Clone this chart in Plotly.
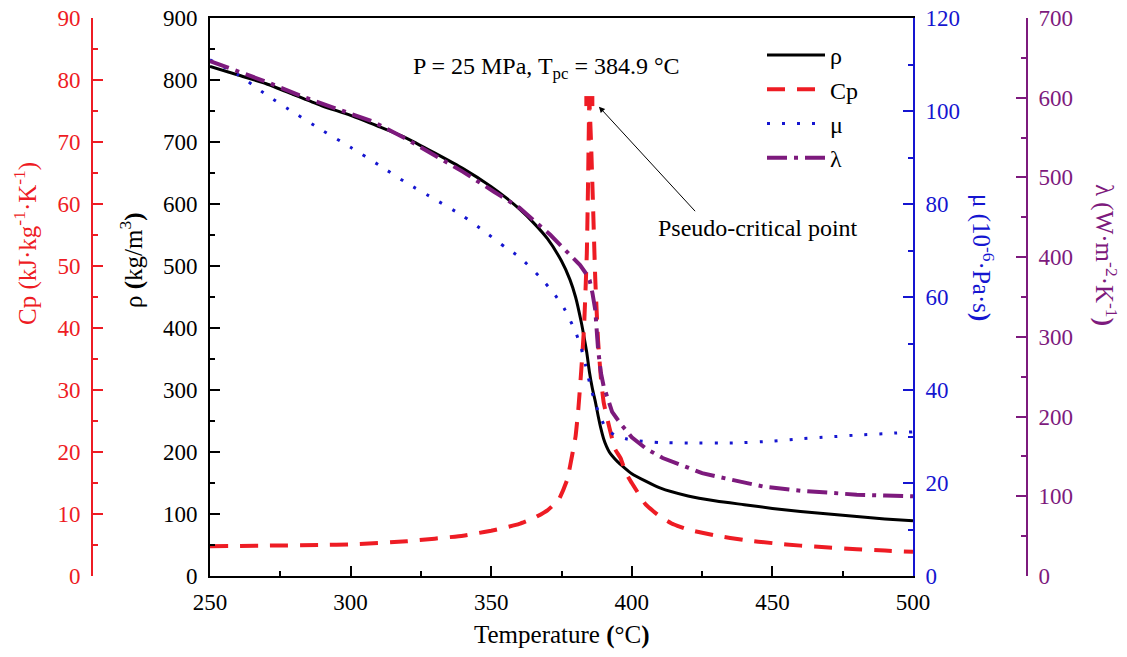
import plotly.graph_objects as go

# Supercritical water properties at P = 25 MPa
temp_rho = [250, 260, 270, 280, 290, 300, 310, 320, 330, 340, 350, 355, 360, 365, 370,
            375, 378, 380, 382, 383, 384, 384.9, 386, 387, 388, 389, 390, 391, 392, 393,
            395, 397, 400, 410, 420, 430, 440, 450, 460, 470, 480, 490, 500]
rho = [822, 808, 794, 776, 758, 743, 725, 706, 682, 657, 628, 611, 592, 570, 544,
       508, 478, 450, 410, 386, 360, 330, 302, 282, 259, 238, 221, 209, 200, 194,
       184, 176, 165, 142, 129, 121, 115, 109, 104, 100, 96, 92, 89]

temp_cp = [250, 270, 290, 300, 320, 340, 345, 350, 355, 360, 365, 370, 374, 377, 379,
           380, 381, 382, 383, 384, 384.5, 384.9, 385.5, 386.2, 387, 388, 389, 390,
           392, 394, 396, 398, 400, 405, 410, 415, 420, 430, 440, 450, 460, 470,
           480, 490, 500]
cp = [4.8, 4.9, 5.0, 5.1, 5.6, 6.5, 6.9, 7.3, 7.8, 8.4, 9.3, 10.6, 12.3, 15.5, 20.0,
      22.5, 27.0, 33.0, 40.0, 52.0, 65.0, 76.6, 70.0, 60.0, 48.0, 38.0, 32.0, 28.0,
      24.0, 20.5, 19.0, 16.5, 15.0, 11.5, 9.6, 8.3, 7.5, 6.5, 5.8, 5.3, 4.9, 4.6,
      4.3, 4.1, 3.9]

temp_mu = [250, 260, 270, 280, 290, 300, 310, 320, 330, 340, 348, 355, 360, 367, 372,
           376, 380, 382, 383.5, 385, 387, 389, 391, 394, 398, 402, 410, 420, 436,
           450, 460, 470, 480, 490, 500]
mu = [111.0, 107.8, 103.5, 99.6, 95.8, 92.2, 88.4, 84.5, 81.0, 77.4, 73.9, 70.7, 68.6,
      64.5, 61.0, 57.5, 52.5, 49.0, 45.5, 41.5, 37.2, 34.0, 31.6, 30.3, 29.5, 29.1,
      28.7, 28.6, 28.6, 29.0, 29.5, 29.9, 30.3, 30.6, 31.0]

temp_lam = [250, 260, 270, 284, 300, 308, 320, 331, 340, 351, 360, 371, 378, 381.6,
            384, 385, 386, 387, 388, 389, 390, 391.5, 393, 396, 400, 405, 411, 420,
            425, 430, 440, 447, 460, 470, 480, 490, 500]
lam = [646, 633, 620, 600, 580, 570, 548, 526, 507, 482, 462, 428, 404, 390,
       378, 371, 355, 334, 285, 255, 238, 221, 206, 191, 174, 160, 148, 136,
       129, 125, 117, 112, 107, 104, 102, 101, 100]

# Pseudo-critical point
t_pc = [384.9]
cp_pc = [76.6]

RED = "#ee1c24"
BLUE = "#1515d0"
PURPLE = "#7d1a7d"
BLACK = "#000000"
FONT = "Liberation Serif"

fig = go.Figure()

fig.add_trace(go.Scatter(x=temp_rho, y=rho, name="ρ", mode="lines",
                         line=dict(color=BLACK, width=3, shape="spline", smoothing=0.6),
                         yaxis="y"))
fig.add_trace(go.Scatter(x=temp_cp, y=cp, name="Cp", mode="lines",
                         line=dict(color=RED, width=4, dash="18px,12px",
                                   shape="spline", smoothing=0.4),
                         yaxis="y2"))
fig.add_trace(go.Scatter(x=temp_mu, y=mu, name="μ", mode="lines",
                         line=dict(color=BLUE, width=3, dash="3px,12px",
                                   shape="spline", smoothing=0.6),
                         yaxis="y3"))
fig.add_trace(go.Scatter(x=temp_lam, y=lam, name="λ", mode="lines",
                         line=dict(color=PURPLE, width=4, dash="20px,7px,4px,7px"),
                         yaxis="y4"))
fig.add_trace(go.Scatter(x=t_pc, y=cp_pc, mode="markers", showlegend=False,
                         marker=dict(symbol="square", size=10, color=RED), yaxis="y2"))

W, H = 1127, 657
L_PX, R_PX, T_PX, B_PX = 210, 913, 18, 576


def px_x(p):
    return p / W


def px_y(p):
    return (B_PX - p) / (B_PX - T_PX)


tick_font = dict(family=FONT, size=23)

fig.update_layout(
    width=W, height=H,
    margin=dict(l=0, r=0, t=T_PX, b=H - B_PX, autoexpand=False),
    paper_bgcolor="white", plot_bgcolor="white",
    font=dict(family=FONT, size=23, color=BLACK),
    showlegend=True,
    legend=dict(x=px_x(762), y=px_y(33), xanchor="left", yanchor="top",
                bgcolor="rgba(0,0,0,0)", font=dict(family=FONT, size=24),
                itemwidth=58, tracegroupgap=0),
    xaxis=dict(domain=[px_x(L_PX), px_x(R_PX)], range=[250, 500],
               tickvals=[250, 300, 350, 400, 450, 500], automargin=False,
               ticks="inside", ticklen=10, tickwidth=2, tickcolor=BLACK,
               minor=dict(dtick=25, ticks="inside", ticklen=5, tickwidth=2, tickcolor=BLACK),
               showline=True, linecolor=BLACK, linewidth=2, mirror=True,
               showgrid=False, zeroline=False, tickfont=tick_font,
               ticklabelstandoff=4),
    yaxis=dict(range=[0, 900], dtick=100, tick0=0, automargin=False,
               ticks="inside", ticklen=10, tickwidth=2, tickcolor=BLACK,
               minor=dict(dtick=50, ticks="inside", ticklen=5, tickwidth=2, tickcolor=BLACK),
               showline=True, linecolor=BLACK, linewidth=2,
               showgrid=False, zeroline=False, tickfont=tick_font,
               ticklabelstandoff=6),
    yaxis2=dict(range=[0, 90], dtick=10, tick0=0, overlaying="y", anchor="free",
                position=px_x(92), side="left", automargin=False,
                ticks="inside", ticklen=10, tickwidth=2, tickcolor=RED,
                minor=dict(dtick=5, ticks="inside", ticklen=5, tickwidth=2, tickcolor=RED),
                showline=True, linecolor=RED, linewidth=2,
                showgrid=False, zeroline=False,
                tickfont=dict(family=FONT, size=23, color=RED),
                ticklabelstandoff=6),
    yaxis3=dict(range=[0, 120], dtick=20, tick0=0, overlaying="y", anchor="x",
                side="right", automargin=False,
                ticks="inside", ticklen=10, tickwidth=2, tickcolor=BLUE,
                minor=dict(dtick=10, ticks="inside", ticklen=5, tickwidth=2, tickcolor=BLUE),
                showline=True, linecolor=BLUE, linewidth=2,
                showgrid=False, zeroline=False,
                tickfont=dict(family=FONT, size=23, color=BLUE),
                ticklabelstandoff=6),
    yaxis4=dict(range=[0, 700], dtick=100, tick0=0, overlaying="y", anchor="free",
                position=px_x(1027), side="right", automargin=False,
                ticks="inside", ticklen=10, tickwidth=2, tickcolor=PURPLE,
                minor=dict(dtick=50, ticks="inside", ticklen=5, tickwidth=2, tickcolor=PURPLE),
                showline=True, linecolor=PURPLE, linewidth=2,
                showgrid=False, zeroline=False,
                tickfont=dict(family=FONT, size=23, color=PURPLE),
                ticklabelstandoff=6),
)

annotations = [
    dict(text="Cp (kJ·kg<sup>-1</sup>·K<sup>-1</sup>)", x=px_x(25), y=px_y(244),
         textangle=-90, font=dict(family=FONT, size=25, color=RED)),
    dict(text="ρ <b>(</b>kg/m<sup>3</sup><b>)</b>", x=px_x(131), y=px_y(260),
         textangle=-90, font=dict(family=FONT, size=25, color=BLACK)),
    dict(text="μ (10<sup>-6</sup>·Pa·s<b>)</b>", x=px_x(983), y=px_y(257),
         textangle=90, font=dict(family=FONT, size=25, color=BLUE)),
    dict(text="λ (W·m<sup>-2</sup>·K<sup>-1</sup><b>)</b>", x=px_x(1105), y=px_y(255),
         textangle=90, font=dict(family=FONT, size=25, color=PURPLE)),
    dict(text="Temperature <b>(</b>°C<b>)</b>", x=px_x(562), y=px_y(635),
         font=dict(family=FONT, size=25, color=BLACK)),
]
for a in annotations:
    a.update(xref="paper", yref="paper", showarrow=False, xanchor="center", yanchor="middle")

annotations += [
    dict(text="P = 25 MPa, T<sub>pc</sub> = 384.9 °C", x=369.5, y=819, xref="x", yref="y",
         showarrow=False, font=dict(family=FONT, size=24, color=BLACK)),
    dict(text="Pseudo-critical point", x=444.9, y=561, xref="x", yref="y",
         showarrow=False, font=dict(family=FONT, size=24, color=BLACK)),
    dict(text="", x=388.3, y=757, xref="x", yref="y", ax=423.0, ay=586,
         axref="x", ayref="y", showarrow=True, arrowhead=2, arrowsize=1.2,
         arrowwidth=1, arrowcolor=BLACK),
]
fig.update_layout(annotations=annotations)

fig.write_html("out.html")
